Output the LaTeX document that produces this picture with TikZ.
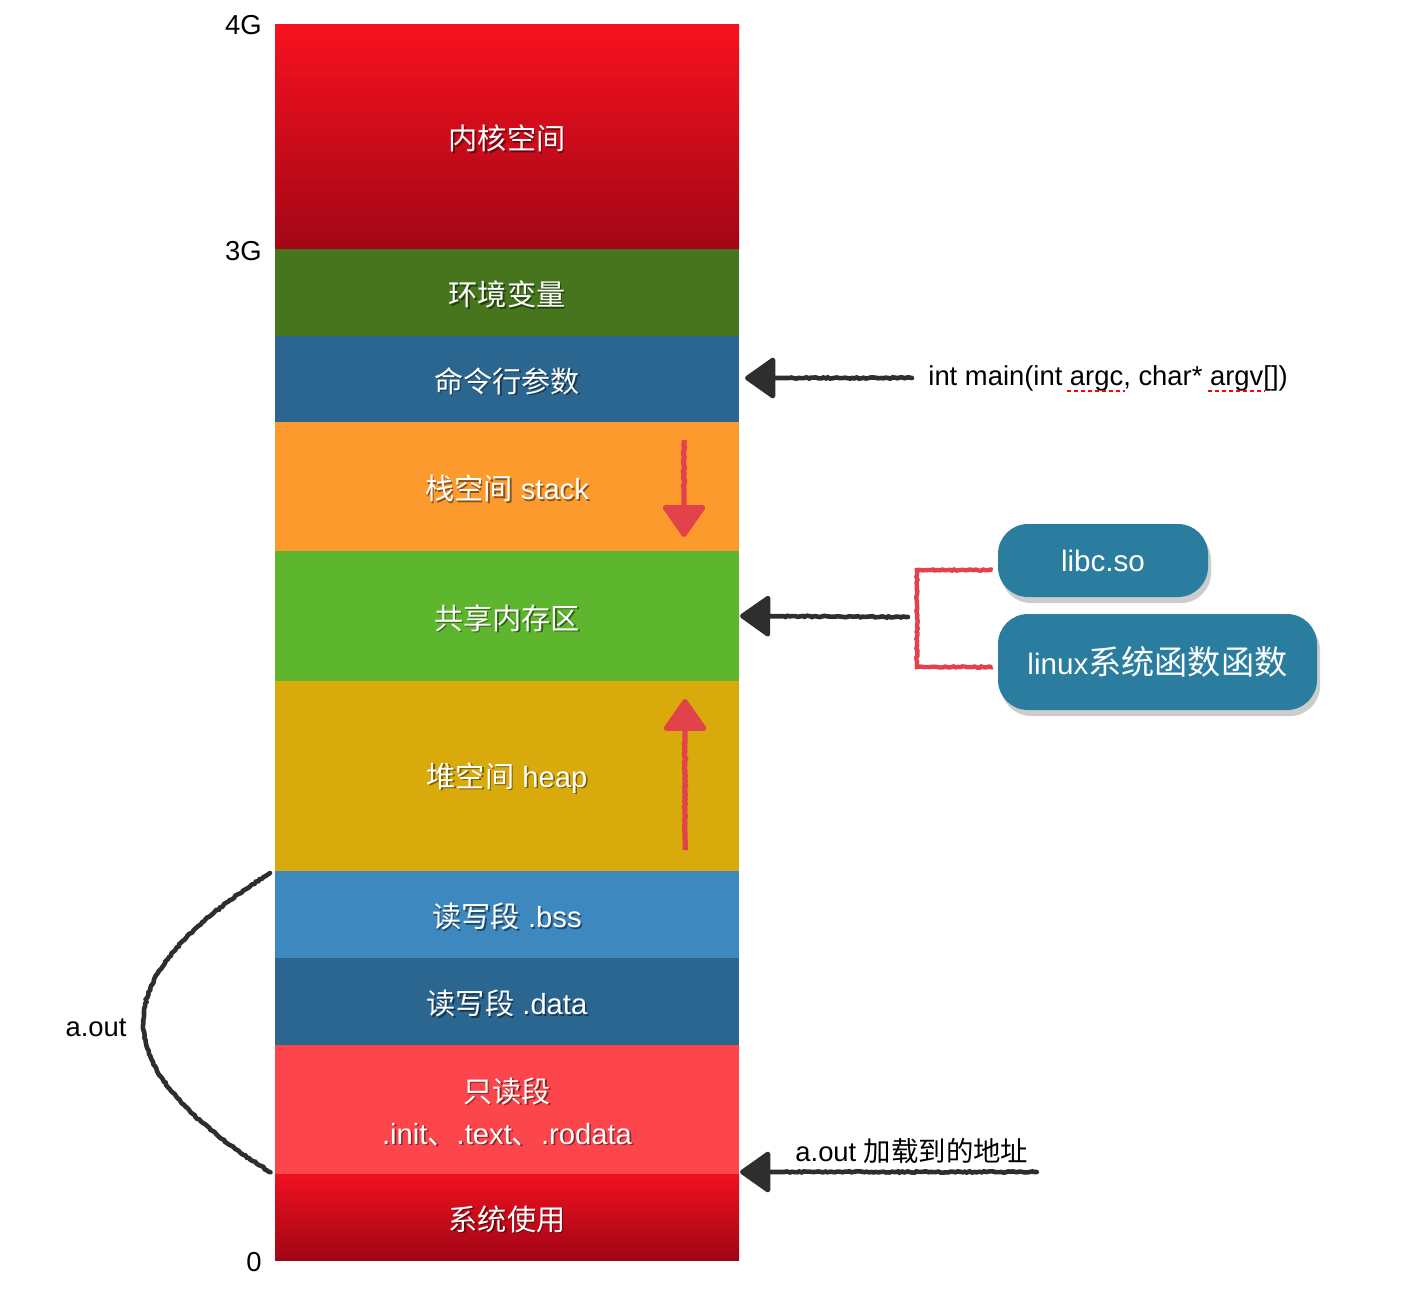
\documentclass[tikz,border=0pt]{standalone}
\usepackage{fontspec}
\setmainfont{Liberation Sans}
\newfontfamily\cjk{Noto Sans CJK SC}
\usetikzlibrary{arrows.meta,decorations.pathmorphing,shadows}
\newcommand\zh[1]{{\cjk #1}}
\definecolor{kerneltop}{HTML}{F8111F}
\definecolor{kernelbot}{HTML}{A20616}
\definecolor{envgreen}{HTML}{46751E}
\definecolor{argblue}{HTML}{2A6690}
\definecolor{stackorange}{HTML}{FD9A2E}
\definecolor{sharedgreen}{HTML}{5EB52E}
\definecolor{heapgold}{HTML}{D8AA0B}
\definecolor{bssblue}{HTML}{3D89BF}
\definecolor{rodatared}{HTML}{FD464C}
\definecolor{systop}{HTML}{F0111F}
\definecolor{sysbot}{HTML}{A00515}
\definecolor{libblue}{HTML}{2B7DA0}
\definecolor{arrowred}{HTML}{E2424A}
\definecolor{chalkgray}{HTML}{2E2E2E}
\tikzset{
  seg/.style={minimum width=232pt, inner sep=0pt, outer sep=0pt, draw=none},
  segtext/.style={text=white, font=\fontsize{14.6}{21}\selectfont, align=center, inner sep=0pt},
  segshadow/.style={segtext, text=black, text opacity=0.45},
  sidelabel/.style={font=\fontsize{13.7}{16}\selectfont, inner sep=0pt},
  chalk/.style={line width=2.3pt, draw=chalkgray, line cap=round, decorate,
    decoration={random steps, segment length=1.2pt, amplitude=0.35pt}},
  chalkarrow/.style={chalk, decoration={post length=22pt},
    -{Triangle[width=22pt,length=16pt,round]}},
  redline/.style={line width=2.2pt, draw=arrowred, decorate,
    decoration={random steps, segment length=1.2pt, amplitude=0.35pt}},
  redarrow/.style={redline, line width=2.6pt, decoration={post length=22pt},
    -{Triangle[width=23pt,length=17pt,round,fill=arrowred]}},
  libbox/.style={rounded corners=15pt, fill=libblue, text=white, inner sep=0pt,
    drop shadow={opacity=0.4, shadow xshift=1.5pt, shadow yshift=-3pt}},
  spellmark/.style={draw=red, line width=1.4pt, dash pattern=on 2pt off 1.5pt}
}
\newcommand\memseg[5]{%
  \node[seg, minimum height=#3, #4] (#1) at (507,#2) {};
  \node[segshadow] at ([shift={(0.8pt,-1.8pt)}]#1.center) {#5};
  \node[segtext] (#1-label) at ([yshift=-1pt]#1.center) {#5};
}
\begin{document}
\begin{tikzpicture}[x=0.5pt,y=-0.5pt]
  \useasboundingbox (0,0) rectangle (1406,1292);
  \memseg{kernel}{136.5}{112.5pt}{top color=kerneltop, bottom color=kernelbot}{\zh{内核空间}}
  \memseg{env}{292.5}{43.5pt}{fill=envgreen}{\zh{环境变量}}
  \memseg{args}{379}{43pt}{fill=argblue}{\zh{命令行参数}}
  \memseg{stack}{486.5}{64.5pt}{fill=stackorange}{\zh{栈空间} stack}
  \memseg{shared}{616}{65pt}{fill=sharedgreen}{\zh{共享内存区}}
  \memseg{heap}{776}{95pt}{fill=heapgold}{\zh{堆空间} heap}
  \memseg{bss}{914.5}{43.5pt}{fill=bssblue}{\zh{读写段} .bss}
  \memseg{data}{1001.5}{43.5pt}{fill=argblue}{\zh{读写段} .data}
  \memseg{rodata}{1109.5}{64.5pt}{fill=rodatared}{\zh{只读段}\\.init\zh{、}.text\zh{、}.rodata}
  \memseg{sys}{1217}{43pt}{top color=systop, bottom color=sysbot}{\zh{系统使用}}

  \node[sidelabel, anchor=east] (top4g) at ([xshift=-6.5pt,yshift=-0.5pt]kernel.north west) {4G};
  \node[sidelabel, anchor=east] (mid3g) at ([xshift=-6.5pt,yshift=-1pt]kernel.south west) {3G};
  \node[sidelabel, anchor=east] (zero) at ([xshift=-6.5pt,yshift=-1pt]sys.south west) {0};

  \draw[redarrow] ([xshift=88.5pt,yshift=-9pt]stack.north) -- ([xshift=88.5pt,yshift=7pt]stack.south);
  \draw[redarrow] ([xshift=89pt,yshift=10.5pt]heap.south) -- ([xshift=89pt,yshift=-9pt]heap.north);

  \node[sidelabel, anchor=west] (main) at (928,378) {int main(int argc, char* argv[])};
  \draw[spellmark] (1067,391) -- (1125,391);
  \draw[spellmark] (1208,391) -- (1265,391);
  \draw[chalkarrow] ([xshift=-8pt]main.west) -- ([xshift=3pt,yshift=0.5pt]args.east);

  \node[libbox, minimum width=105pt, minimum height=36.5pt, font=\fontsize{14.8}{17}\selectfont] (libc) at (1103,560.5) {libc.so};
  \node[libbox, minimum width=159.5pt, minimum height=48pt, font=\fontsize{14.8}{17}\selectfont] (linux) at (1157.5,662) {linux{\fontsize{16.6}{20}\selectfont\zh{系统函数函数}}};
  \coordinate (bracket) at (917,617);
  \draw[redline] ([xshift=-2.5pt,yshift=-4.75pt]libc.west) -| (bracket) |- ([xshift=-2.5pt,yshift=-2.5pt]linux.west);
  \draw[chalkarrow] ([xshift=-4.5pt]bracket) -- ([xshift=0.5pt]shared.east);

  \draw[chalk] ([xshift=-2.5pt,yshift=-1pt]bss.north west) .. controls (101,980) and (101,1065) .. ([xshift=-2.5pt,yshift=1pt]sys.north west);
  \node[sidelabel] (aout) at (96,1028) {a.out};

  \node[sidelabel, anchor=west] (loadaddr) at (795,1151) {a.out \zh{加载到的地址}};
  \draw[chalkarrow] ([xshift=4pt,yshift=-10.5pt]loadaddr.east) -- ([xshift=0.5pt,yshift=1pt]sys.north east);
\end{tikzpicture}
\end{document}
